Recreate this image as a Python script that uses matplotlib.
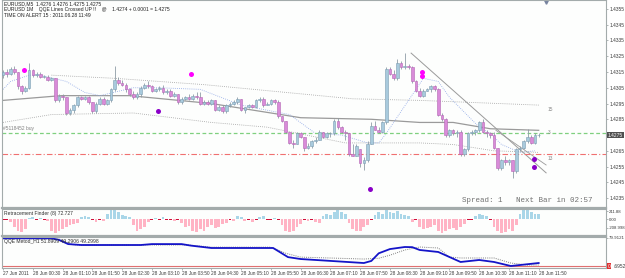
import matplotlib
matplotlib.use("Agg")
import matplotlib.pyplot as plt
import matplotlib.transforms as mtransforms
import numpy as np

plt.rcParams["font.family"] = ["Liberation Sans", "DejaVu Sans"]

# EURUSD M5, prices kept as pips above 1.4200
BASE = 1.42

open_pips = [113, 115, 114, 117, 115, 106, 103, 105, 116, 113,
             114, 112, 112, 110, 111, 97, 100, 99, 89, 91,
             94, 99, 98, 99, 96, 90, 95, 98, 95, 97,
             104, 110, 108, 107, 104, 101, 99, 101, 105, 107,
             106, 103, 104, 105, 102, 103, 100, 101, 96, 98,
             99, 98, 100, 99, 95, 96, 95, 97, 91, 93,
             90, 94, 95, 96, 98, 91, 93, 94, 93, 97,
             98, 94, 95, 97, 96, 87, 84, 77, 70, 69,
             76, 74, 67, 68, 71, 72, 77, 74, 76, 76,
             84, 80, 77, 76, 63, 62, 66, 57, 59, 69,
             81, 78, 77, 83, 117, 114, 111, 121, 118, 119,
             118, 109, 103, 100, 103, 104, 106, 104, 88, 85,
             75, 78, 76, 77, 63, 66, 76, 77, 78, 83,
             77, 76, 75, 67, 54, 59, 58, 59, 52, 66,
             67, 71, 74, 70, 75]
close_pips = [115, 114, 117, 115, 106, 103, 105, 116, 113, 114,
              112, 112, 110, 111, 97, 100, 99, 89, 91, 94,
              99, 98, 99, 96, 90, 95, 98, 95, 97, 104,
              110, 108, 107, 104, 101, 99, 101, 105, 107, 106,
              103, 104, 105, 102, 103, 100, 101, 96, 98, 99,
              98, 100, 99, 95, 96, 95, 97, 91, 93, 90,
              94, 95, 96, 98, 91, 93, 94, 93, 97, 98,
              94, 95, 97, 96, 87, 84, 77, 70, 69, 76,
              74, 67, 68, 71, 72, 77, 74, 76, 76, 84,
              80, 77, 76, 63, 62, 68, 57, 59, 69, 81,
              78, 77, 83, 117, 114, 111, 121, 118, 119, 118,
              109, 103, 100, 103, 104, 106, 104, 88, 85, 75,
              78, 76, 77, 63, 66, 76, 77, 78, 83, 77,
              76, 75, 67, 54, 59, 58, 59, 52, 66, 67,
              71, 74, 70, 75, 75]
high_pips = [116, 117, 118, 119, 115, 107, 106, 121, 117, 115,
             115, 113, 113, 112, 111, 101, 101, 99, 92, 95,
             100, 100, 100, 100, 96, 96, 99, 99, 98, 105,
             119, 112, 110, 108, 105, 103, 102, 106, 108, 109,
             107, 105, 106, 107, 104, 104, 102, 101, 99, 100,
             101, 101, 102, 102, 97, 97, 98, 97, 94, 94,
             95, 96, 97, 99, 98, 93, 95, 95, 98, 99,
             99, 96, 98, 98, 97, 87, 84, 77, 72, 77,
             77, 74, 70, 72, 74, 78, 77, 77, 77, 85,
             86, 81, 78, 76, 69, 69, 66, 61, 71, 83,
             84, 80, 84, 118, 118, 116, 123, 122, 127, 120,
             119, 110, 105, 104, 105, 107, 107, 105, 89, 86,
             79, 79, 78, 78, 67, 77, 78, 79, 84, 85,
             78, 77, 77, 67, 60, 62, 60, 59, 67, 68,
             72, 79, 75, 76, 76]
low_pips = [111, 112, 113, 114, 104, 101, 102, 104, 112, 112,
            111, 111, 109, 109, 96, 96, 97, 88, 88, 89,
            93, 97, 97, 95, 89, 89, 94, 94, 94, 96,
            103, 107, 106, 102, 100, 98, 98, 99, 104, 105,
            102, 102, 103, 101, 101, 99, 99, 95, 95, 97,
            97, 97, 98, 94, 94, 94, 94, 90, 90, 89,
            89, 93, 94, 95, 90, 89, 92, 92, 92, 96,
            93, 94, 94, 95, 86, 83, 76, 69, 67, 69,
            73, 65, 66, 67, 70, 72, 73, 73, 74, 75,
            79, 76, 72, 62, 62, 62, 55, 53, 58, 69,
            78, 76, 76, 82, 113, 110, 110, 117, 117, 117,
            108, 102, 99, 99, 103, 102, 103, 87, 84, 74,
            74, 75, 74, 62, 62, 65, 75, 75, 77, 76,
            74, 73, 66, 53, 53, 56, 56, 48, 51, 65,
            66, 70, 69, 69, 74]

# moving average and its bands (bar index, pips)
ma_x = [0, 15.6, 34, 56, 80, 99, 112, 121, 131, 144]
ma_y = [97, 100, 100, 95, 86, 85, 83, 83, 79, 78]
band_up_x = [13, 30, 54, 94, 112, 144]
band_up_y = [113, 111, 107, 98, 97, 94]
band_lo_x = [0, 13, 35, 56, 71, 92, 112, 121, 132, 144]
band_lo_y = [83, 88, 89, 83, 80, 70, 70, 69, 65, 64]
fast_x = [0, 2, 7, 10, 17, 22, 26, 35, 42, 53, 64, 77, 84, 91, 98, 101,
          103, 109, 113, 117, 120, 128, 131, 134, 139, 143]
fast_y = [104, 109, 113, 113, 109, 102, 100, 105, 105, 104, 94, 88, 76, 75, 70, 70,
          76, 97, 111, 109, 99, 80, 76, 69, 64, 65]
trend_x = [109.7, 146]
trend_y = [127, 51]
trend2_x = [132.5, 146]
trend2_y = [78, 56]

alert_x = [5.7, 50.5, 112.6, 112.6]
alert_y = [116, 114, 115, 112.5]
signal_x = [41.7, 98.7, 142.7, 142.7]
signal_y = [90, 41, 60, 55]

buy_level = 1.4276
stop_level = 1.4263
last_price = 1.4275
price_ticks = [1.4355, 1.4345, 1.4335, 1.4325, 1.4315, 1.4305, 1.4295, 1.4285,
               1.4265, 1.4255, 1.4245, 1.4235]

# Retracement Finder histogram, 0 = red marker
retr = [0, 0, -60, -200, -300, -320, -250, 50, 60, 0,
        50, 0, -40, -280, -330, -300, -250, -200, -150, -120,
        -80, 60, 80, 60, 0, -60, 0, -40, 150, 240,
        250, 200, 120, 100, 60, -150, -280, -250, -180, -60,
        0, 40, 0, 60, 0, 0, -30, 0, -100, -180,
        -160, -300, -320, -250, -280, -200, -150, -220, -180, -120,
        -100, 0, -30, 80, 70, -50, 0, -60, 0, 60,
        90, 0, 0, 40, 0, -150, -300, -320, -280, -200,
        -120, 0, -40, 0, -60, -80, 100, 150, 120, 200,
        260, 180, 150, -100, -250, -300, -280, -200, -150, 0,
        120, 200, 150, 250, 180, 160, 220, 140, 120, 80,
        -60, 0, -200, -250, -220, -180, -150, -280, -350, -300,
        -250, -220, -260, -200, -120, 0, 0, 100, 150, 120,
        80, 0, -200, -300, -350, -320, -250, -280, -150, 150,
        260, 240, 180, 150, 140]

# QQE lines
qqe_x = [0, 13, 15, 17.5, 21, 37, 40, 48, 50.5, 56, 72.6, 76.6, 80, 97, 99, 101,
         104, 108, 110, 112, 117, 120, 123, 128, 132, 136.5, 139, 144]
qqe_fast = [79, 79, 75, 64, 61.6, 61.6, 64, 64, 60, 53.8, 53.8, 30, 25, 14.6, 20, 40,
            51, 56.4, 56, 48.6, 43.4, 30.3, 17.3, 22.5, 17.3, 6.8, 9.4, 14.6]
qqe_slow_x = [0, 15, 19, 50, 56, 72, 76, 80, 97, 101, 104, 108, 112, 117, 120,
              123, 132, 136.5, 141, 144]
qqe_slow = [79, 77, 61.6, 61.6, 56, 56, 40, 30, 25, 27, 35, 48.6, 56.4, 53.8, 30.3,
            27.7, 27.7, 14.6, 9.4, 9.4]
qqe_level = 6.8

time_labels = ["27 Jun 2011", "28 Jun 00:30", "28 Jun 01:10", "28 Jun 01:50",
               "28 Jun 02:30", "28 Jun 03:10", "28 Jun 03:50", "28 Jun 04:30",
               "28 Jun 05:10", "28 Jun 05:50", "28 Jun 06:30", "28 Jun 07:10",
               "28 Jun 07:50", "28 Jun 08:30", "28 Jun 09:10", "28 Jun 09:50",
               "28 Jun 10:30", "28 Jun 11:10", "28 Jun 11:50"]
bars_per_label = 8

W, H = 625, 278
fig = plt.figure(figsize=(W / 100, H / 100), dpi=100)
fig.patch.set_facecolor("white")
L, R = 2 / W, 604 / W
ax = fig.add_axes([L, 1 - 208 / H, R, 208 / H])
ax1 = fig.add_axes([L, 1 - 236 / H, R, 27 / H])
ax2 = fig.add_axes([L, 1 - 268 / H, R, 31 / H])

frame = "#a3abab"
lab = "#3a3a3a"
fs = 3.5
for a in (ax, ax1, ax2):
    a.set_facecolor("#fdfefd")
    for s in a.spines.values():
        s.set_color(frame)
        s.set_linewidth(0.8)
    a.yaxis.tick_right()
    a.tick_params(axis="y", labelsize=fs, colors=frame, labelcolor=lab,
                  length=1.5, width=0.6, pad=0.8)
    a.set_xlim(-0.3, 162.1)
for a in (ax, ax1):
    a.set_xticks([])
ax.spines["bottom"].set_linewidth(1.6)
ax1.spines["bottom"].set_linewidth(1.6)

def px(v):
    return BASE + np.asarray(v, dtype=float) / 1e4

# candles
o, c, h, l = px(open_pips), px(close_pips), px(high_pips), px(low_pips)
idx = np.arange(len(o))
up = c >= o
ax.vlines(idx, l, h, color="#8e9ca6", linewidth=0.6, zorder=2)
body = np.maximum(np.abs(c - o), 0.00003)
ax.bar(idx[up], body[up], bottom=np.minimum(o, c)[up], width=0.72,
       color="#a8cadd", edgecolor="#7d9db2", linewidth=0.4, zorder=3)
ax.bar(idx[~up], body[~up], bottom=np.minimum(o, c)[~up], width=0.72,
       color="#d98bd9", edgecolor="#b466b4", linewidth=0.4, zorder=3)

ax.plot(ma_x, px(ma_y), color="#9a9a9a", linewidth=0.9, zorder=1)
ax.plot(band_up_x, px(band_up_y), color="#a0a0a0", linewidth=0.6, linestyle=(0, (1, 1.5)), zorder=1)
ax.plot(band_lo_x, px(band_lo_y), color="#a0a0a0", linewidth=0.6, linestyle=(0, (1, 1.5)), zorder=1)
ax.plot(fast_x, px(fast_y), color="#8da6e6", linewidth=0.6, linestyle=(0, (1, 1.5)), zorder=1)
ax.plot(trend_x, px(trend_y), color="#9a9a9a", linewidth=0.7, zorder=1)
ax.plot(trend2_x, px(trend2_y), color="#9a9a9a", linewidth=0.6, zorder=1)

ax.axhline(buy_level, color="#7fd07f", linewidth=0.9, linestyle=(0, (3, 2)), zorder=1)
ax.axhline(stop_level, color="#f07070", linewidth=0.8, linestyle=(0, (5, 2, 1, 2)), zorder=1)

ax.plot(alert_x, px(alert_y), "o", color="#ff00ff", markersize=3.6, markeredgewidth=0, zorder=4)
ax.plot(signal_x, px(signal_y), "o", color="#8a00c8", markersize=3.6, markeredgewidth=0, zorder=4)

ax.set_ylim(1.42287, 1.43607)
ax.set_yticks(price_ticks)
ax.set_yticklabels([f"{v:.4f}" for v in price_ticks])

bt = mtransforms.blended_transform_factory(ax.transAxes, ax.transData)
ax.text(1.003, last_price, f"{last_price:.4f}", transform=bt, fontsize=fs, color="white",
        va="center", ha="left", bbox=dict(fc="#505050", ec="none", pad=0.6))
ax.text(0.002, buy_level + 0.00016, "#5118452 buy", fontsize=3.5, color="#808080", va="bottom")
n = len(o)
ax.text(n + 1.5, px(91.5), "15", fontsize=3.5, color="#8a8a8a", va="center")
ax.text(n + 1.5, px(76.3), "3", fontsize=3.5, color="#8a8a8a", va="center")
ax.text(n + 1.5, px(60.4), "13", fontsize=3.5, color="#8a8a8a", va="center")
tt = mtransforms.blended_transform_factory(ax.transData, ax.transAxes)
ax.plot([n + 1], [0.992], marker="v", color="#7884a0", markersize=2.5, transform=tt, clip_on=False)

title_lines = ["EURUSD,M5  1.4276 1.4276 1.4275 1.4275",
               "EURUSD 1M    QQE Lines Crossed UP !!    @    1.4274 + 0.0001 = 1.4275",
               "TIME ON ALERT 15 : 2011.06.28 11:49"]
for k, t in enumerate(title_lines):
    ax.text(0.003, 1 - (3.5 + 6 * k) / 208, t, transform=ax.transAxes, fontsize=3.6,
            color="#202020", va="center", ha="left")
ax.text(0.762, 0.034, "Spread: 1   Next Bar in 02:57", transform=ax.transAxes,
        fontsize=5.4, family="Liberation Mono", color="#707070", va="center", ha="left")

# Retracement Finder panel
retr = np.array(retr, dtype=float)
ridx = np.arange(len(retr))
ax1.bar(ridx[retr > 0], retr[retr > 0], width=0.75, color="#a9d6e8", linewidth=0)
ax1.bar(ridx[retr < 0], retr[retr < 0], width=0.75, color="#ffb3c4", linewidth=0)
zero = retr == 0
ax1.bar(ridx[zero], np.full(zero.sum(), 40.0), bottom=-20, width=0.8, color="#d0103a", linewidth=0)
ax1.set_ylim(-417, 265)
ax1.set_yticks([211.88, 0.0, -208.998])
ax1.set_yticklabels(["211.88", "0.00", "-208.998"])
ax1.tick_params(axis="y", labelsize=3.1)
ax1.text(0.003, 0.85, "Retracement Finder (8) 72.727", transform=ax1.transAxes,
         fontsize=3.6, color="#303030", va="center")

# QQE panel
ax2.axhline(qqe_level, color="#e07070", linewidth=0.8)
ax2.plot(qqe_slow_x, qqe_slow, color="#808080", linewidth=0.7, linestyle=(0, (1, 1.2)))
ax2.plot(qqe_x, qqe_fast, color="#1414c8", linewidth=1.3)
ax2.set_ylim(1.6, 82.5)
ax2.set_yticks([79.9121])
ax2.set_yticklabels(["79.9121"])
ax2.tick_params(axis="y", labelsize=3.2)
bt2 = mtransforms.blended_transform_factory(ax2.transAxes, ax2.transData)
ax2.text(1.003, qqe_level, "0", transform=bt2, fontsize=fs, color="white", va="center",
         ha="left", bbox=dict(fc="#e03030", ec="none", pad=0.5))
ax2.text(1.012, qqe_level, ".6952", transform=bt2, fontsize=fs, color=lab, va="center", ha="left")
ax2.text(0.003, 0.86, "QQE Metod_H1 51.8909 49.2906 49.2998", transform=ax2.transAxes,
         fontsize=3.6, color="#303030", va="center")

ticks = np.arange(len(time_labels)) * bars_per_label
ax2.set_xticks(ticks)
ax2.set_xticklabels(time_labels, ha="left")
ax2.tick_params(axis="x", labelsize=3.4, colors=frame, labelcolor=lab, length=1.5, width=0.6, pad=0.8)

fig.savefig("out.png", dpi=100)
